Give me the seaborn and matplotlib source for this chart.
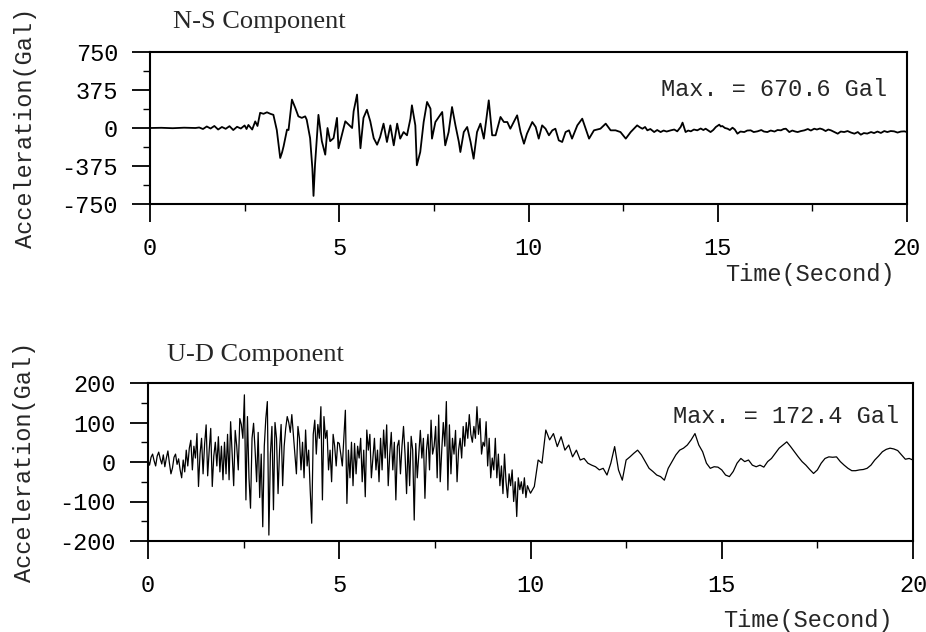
import numpy as np
import matplotlib
matplotlib.use("Agg")
import matplotlib.pyplot as plt
import seaborn as sns

# ---- N-S component (time in s, acceleration in Gal) ----
ns_time_early = [0.0, 0.3, 0.6, 0.9, 1.2, 1.3, 1.4, 1.5, 1.6, 1.7, 1.8, 1.9, 2.0, 2.1, 2.2,
                 2.3, 2.4, 2.5, 2.55, 2.6, 2.7, 2.78, 2.84, 2.91, 3.0, 3.09, 3.18, 3.26, 3.35,
                 3.44, 3.49, 3.53, 3.58, 3.62, 3.66, 3.75, 3.84, 3.92, 4.01, 4.10, 4.14, 4.23,
                 4.29, 4.32, 4.36, 4.45, 4.54, 4.63, 4.69, 4.76, 4.85, 4.94, 4.98, 5.07, 5.16,
                 5.25, 5.34, 5.38, 5.47, 5.56, 5.64, 5.73, 5.82, 5.91, 6.0, 6.08, 6.17, 6.26,
                 6.35, 6.44, 6.53, 6.61, 6.70, 6.79, 6.88, 6.92, 7.01, 7.05, 7.14, 7.23, 7.32,
                 7.41, 7.45, 7.54, 7.63, 7.72, 7.80, 7.89, 7.98, 8.07, 8.16, 8.20, 8.29, 8.38,
                 8.47, 8.55, 8.64, 8.73, 8.82, 8.91, 8.95, 9.04, 9.13, 9.26, 9.35, 9.44, 9.52,
                 9.61, 9.70, 9.79, 9.88, 9.96, 10.10, 10.19, 10.27, 10.36, 10.45, 10.54, 10.63,
                 10.71, 10.80, 10.89, 10.98, 11.07, 11.15, 11.29, 11.42, 11.51, 11.60, 11.73,
                 11.90, 12.04, 12.17, 12.30, 12.43, 12.57, 12.70]
ns_acc_early = [0, 2, -2, 3, 0, 5, -10, 15, -5, 20, -15, 10, -8, 18, -20,
                12, -5, 25, -10, 30, -15, 65, 20, 150, 140, 155, 140, 130, -20,
                -296, -240, -180, -90, -16, -20, 280, 197, 115, 100, 115, 82, -100,
                -400, -670, -362, 130, -130, -263, 0, -130, -100, 100, -200, -66, 66,
                33, 0, 165, 330, -200, 100, 180, 66, -100, -165, -89, 43, -138,
                26, -171, 43, -105, -40, -72, 92, 224, 26, -368, -237, 59, 257,
                191, -105, 59, 109, 158, -171, -40, 207, 26, -138, -237, -40, 10,
                -138, -303, -40, 43, -105, 158, 273, -72, -72, 109, 59, 59, -7,
                59, 125, -40, -155, -56, 59, 10, -105, 26, -7, -72, -23,
                -7, -122, -138, -40, -23, -105, 26, 92, -7, -105, -23,
                -7, 43, -23, -23, -40, -105, -40]
ns_time_late = [12.87, 12.95, 13.01, 13.08, 13.14, 13.22, 13.32, 13.40, 13.49, 13.57,
                13.65, 13.76, 13.85, 13.93, 14.02, 14.07, 14.15, 14.22, 14.29, 14.37,
                14.46, 14.55, 14.62, 14.68, 14.75, 14.81, 14.88, 14.95, 15.04, 15.08,
                15.12, 15.19, 15.26, 15.32, 15.39, 15.45, 15.52, 15.60, 15.70, 15.78,
                15.87, 15.95, 16.05, 16.15, 16.22, 16.31, 16.40, 16.50, 16.58, 16.67,
                16.74, 16.80, 16.89, 16.97, 17.05, 17.11, 17.20, 17.29, 17.38, 17.46,
                17.55, 17.62, 17.70, 17.77, 17.85, 17.92, 17.99, 18.08, 18.17, 18.25,
                18.34, 18.43, 18.52, 18.61, 18.70, 18.78, 18.86, 18.95, 19.05, 19.13,
                19.22, 19.31, 19.40, 19.48, 19.57, 19.66, 19.75, 19.84, 19.93, 20.0]
ns_acc_late = [26, 5, -7, 10, -23, -10, -40, -20, -40, -25,
               -35, -23, -15, -33, 10, 53, -40, -25, -33, -15,
               -23, -5, -20, -7, -25, -40, -20, 10, 33, 15,
               20, 0, -7, -20, 3, -15, -56, -35, -40, -25,
               -23, -40, -33, -20, -35, -40, -25, -35, -20, -23,
               -10, -7, -40, -25, -35, -40, -30, -23, -10, -25,
               -7, -15, -5, -13, -30, -15, -23, -40, -56, -35,
               -40, -30, -45, -56, -40, -66, -50, -55, -40, -50,
               -35, -49, -30, -40, -30, -33, -45, -35, -33, -40]

# ---- U-D component: 0.04 s steps to 10 s, then 0.1 s steps to 20 s ----
ud_acc_0_10 = [
    5, -8, 12, 20, 3, -10, 15, 25, 8, -5, 18, -12, 10, 28, -3, -30, -15, 12, 20, -6, 8, -20, -40, 5, -25,
    30, -10, 35, 55, -20, 40, 10, 72, -62, 20, 60, -30, 45, 94, -35, 30, 85, -62, 15, 50, -10, 64, -25, 40, -45,
    50, -30, 70, -45, 102, 20, -60, 80, 40, -20, 110, 95, 60, 170, -96, 115, -40, -117, 60, 98, 30, -50, 75, -90, 20,
    -164, 40, 110, 153, -185, 20, 90, -121, 100, 60, -80, 30, 95, -60, 40, 85, 115, 100, 75, 120, 70, 20, -30, 90, 60,
    -20, 50, -40, 81, -10, 30, -70, -155, 70, 106, 20, 95, 60, 140, -96, 115, 60, 80, -20, 30, -50, 70, 40, -10, 50,
    47, 20, -10, 60, 131, -105, 30, -40, 50, -60, 47, -30, 40, 10, 60, -50, 30, -88, 81, 30, 70, -40, 10, 60, -20,
    30, -50, 60, -20, 81, 10, 94, -60, 20, 75, -20, 50, -96, 40, 55, -30, 40, 90, 20, -80, 50, -60, 65, 30, -147,
    47, -40, 20, 80, 10, 60, -92, 30, 70, -20, 106, 20, 40, 90, -40, 119, -50, 30, 100, 40, 153, -71, 94, -30, 60,
    20, 80, -50, 30, 60, 10, 90, 40, 100, 60, 120, 70, 50, 90, 60, 140, 70, 110, 20, 50, 40, 102, -10, 60, -40,
    10, -20, 60, -40, 20, -60, -10, -80, 20, -50, -90, -30, -60, -20, -100, -50, -138, -40, -70, -50, -80, -40, -90, -60, -70,
    -79]
ud_acc_10_20 = [
    -62, 5, -3, 81, 56, 72, 39, 64, 30, 43,
    13, 30, 5, 9, -3, -8, -12, -20, -16, -33,
    -3, 39, -20, -46, 5, 13, 22, 30, 18, 1,
    -16, -24, -33, -37, -46, -16, 1, 18, 30, 35,
    43, 56, 72, 43, 26, -3, -16, -12, -13, -20,
    -33, -37, -24, -3, 9, 1, 5, -8, -12, -8,
    -13, 1, 9, 22, 35, 43, 51, 39, 26, 13,
    1, -8, -19, -29, -20, -3, 9, 13, 12, 13,
    1, -8, -16, -22, -22, -20, -19, -16, -8, 5,
    15, 26, 32, 35, 33, 29, 18, 7, 9, 5]

ns_time = ns_time_early + ns_time_late
ns_acc = ns_acc_early + ns_acc_late
ud_time = np.concatenate([np.round(np.arange(0, 10.001, 0.04), 2),
                          np.round(np.arange(10.1, 20.001, 0.1), 1)])
ud_acc = ud_acc_0_10 + ud_acc_10_20

ns_yticks = [-750, -375, 0, 375, 750]
ud_yticks = [-200, -100, 0, 100, 200]
x_ticks = [0, 5, 10, 15, 20]

sns.set_style("ticks")
MONO = "Liberation Mono"
SERIF = "Liberation Serif"
plt.rcParams["font.family"] = [MONO, "DejaVu Sans"]
FS = 17

fig = plt.figure(figsize=(9.26, 6.32), dpi=100)
ax1 = fig.add_axes([150 / 926, 428 / 632, 757 / 926, 152 / 632])
ax2 = fig.add_axes([148 / 926, 91 / 632, 765 / 926, 158 / 632])

sns.lineplot(x=ns_time, y=ns_acc, ax=ax1, color="black", linewidth=1.3)
sns.lineplot(x=ud_time, y=ud_acc, ax=ax2, color="black", linewidth=0.9)


def style_axis(ax, yticks, yminor, title, maxtxt, title_xy, max_xy, ylab_x, xlab_xy):
    ax.set_xlim(0, 20)
    ax.set_ylim(yticks[0], yticks[-1])
    ax.set_xticks(x_ticks)
    ax.set_xticks([2.5, 7.5, 12.5, 17.5], minor=True)
    ax.set_yticks(yticks)
    ax.set_yticks(yminor, minor=True)
    ax.set_xticklabels([str(v) for v in x_ticks])
    ax.set_yticklabels([str(v) for v in yticks])
    for s in ax.spines.values():
        s.set_visible(True)
        s.set_linewidth(1.5)
        s.set_color("black")
    ax.tick_params(which="major", direction="out", length=13, width=1.3,
                   labelsize=FS, colors="black")
    ax.tick_params(which="minor", direction="out", length=5, width=1.0, colors="black")
    ax.tick_params(axis="y", which="major", pad=10)
    ax.tick_params(axis="x", which="major", pad=11)
    ax.set_ylabel("Acceleration(Gal)", fontsize=FS)
    ax.yaxis.label.set_va("center")
    ax.yaxis.set_label_coords(ylab_x, 0.5)
    ax.set_xlabel("Time(Second)", fontsize=FS)
    ax.xaxis.label.set_va("center")
    ax.xaxis.set_label_coords(*xlab_xy)
    ax.text(*title_xy, title, transform=ax.transAxes, ha="center", va="center",
            fontsize=19, family=SERIF)
    ax.text(*max_xy, maxtxt, transform=ax.transAxes, ha="right", va="center",
            fontsize=FS)


style_axis(ax1, ns_yticks, [-562.5, -187.5, 187.5, 562.5], "N-S Component",
           "Max. = 670.6 Gal", (0.145, 1.197), (0.974, 0.75), -0.165, (0.872, -0.467))
style_axis(ax2, ud_yticks, [-150, -50, 50, 150], "U-D Component",
           "Max. = 172.4 Gal", (0.14, 1.177), (0.982, 0.785), -0.161, (0.863, -0.5))

fig.savefig("out.png", dpi=100)
